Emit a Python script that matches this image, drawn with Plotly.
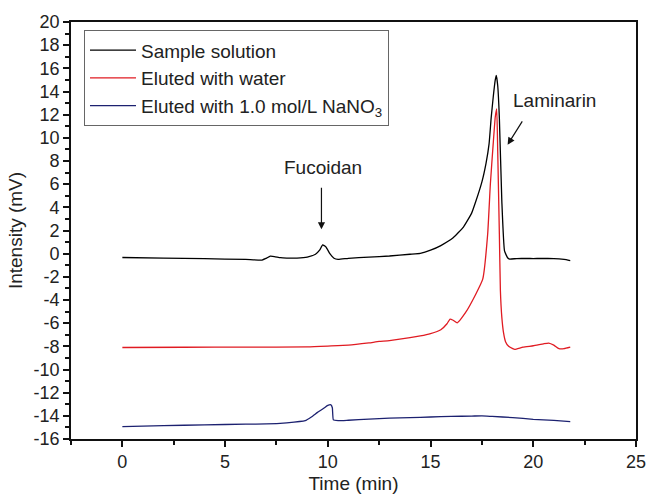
import plotly.graph_objects as go

# --- data ---
sample_x = [0, 2, 4, 6, 6.8, 7.0, 7.2, 7.4, 7.7, 8.0, 8.5, 9.0, 9.4, 9.6, 9.75, 9.9, 10.1, 10.3, 10.5,
            11, 12, 13, 14, 14.5, 15, 15.5, 16.1, 16.6, 17.0, 17.2, 17.5, 17.7, 17.85, 17.95, 18.05,
            18.15, 18.2, 18.27, 18.35, 18.47, 18.6, 18.75, 18.85, 19.2, 20, 21, 21.5, 21.8]
sample_y = [-0.33, -0.38, -0.43, -0.5, -0.55, -0.4, -0.22, -0.25, -0.35, -0.38, -0.38, -0.3, -0.05, 0.3,
            0.75, 0.6, 0.0, -0.4, -0.5, -0.4, -0.3, -0.2, -0.05, 0.03, 0.3, 0.7, 1.37, 2.3, 3.5, 4.5,
            6.2, 7.8, 9.5, 11.7, 13.5, 15.0, 15.4, 14.5, 11.7, 4.5, 0.24, -0.35, -0.47, -0.42, -0.42,
            -0.42, -0.5, -0.6]

water_x = [0, 3, 6, 9, 10, 11, 12, 12.5, 13, 14, 14.5, 15, 15.5, 15.8, 15.95, 16.1, 16.3, 16.7, 17.2,
           17.54, 17.78, 17.91, 18.05, 18.15, 18.22, 18.27, 18.35, 18.4, 18.47, 18.55, 18.65, 18.8,
           19.0, 19.1, 19.5, 20.0, 20.5, 20.75, 21.0, 21.25, 21.5, 21.8]
water_y = [-8.1, -8.08, -8.07, -8.05, -7.98, -7.9, -7.7, -7.58, -7.5, -7.25, -7.1, -6.9, -6.57, -6.05,
           -5.65, -5.75, -5.97, -5.1, -3.5, -2.2, 1.67, 5.97, 9.5, 11.8, 12.5, 8.8, 1.67, -3.2, -5.5,
           -6.8, -7.6, -8.0, -8.2, -8.26, -8.07, -7.95, -7.78, -7.72, -7.9, -8.2, -8.2, -8.07]

nano3_x = [0, 2, 4, 6, 7, 8, 8.9, 9.2, 9.5, 9.8, 10.0, 10.15, 10.22, 10.27, 10.5, 11, 12, 13, 14, 15,
           16, 17, 17.5, 18, 19, 20, 21, 21.8]
nano3_y = [-14.94, -14.85, -14.78, -14.72, -14.7, -14.6, -14.42, -14.1, -13.7, -13.35, -13.1, -13.05,
           -13.3, -14.35, -14.42, -14.38, -14.28, -14.2, -14.15, -14.1, -14.05, -14.02, -14.0, -14.05,
           -14.15, -14.3, -14.4, -14.5]

series_names = ["Sample solution", "Eluted with water", "Eluted with 1.0 mol/L NaNO<sub>3</sub>"]
series_colors = ["#000000", "#e01b22", "#1c2170"]

y_ticks = list(range(-16, 21, 2))
y_ticktext = [str(v) for v in y_ticks]
x_ticks = [0, 5, 10, 15, 20, 25]

FONT = "Arial, Liberation Sans, sans-serif"

fig = go.Figure()
for xs, ys, name, col in zip([sample_x, water_x, nano3_x], [sample_y, water_y, nano3_y],
                             series_names, series_colors):
    fig.add_trace(go.Scatter(x=xs, y=ys, mode="lines", name=name,
                             line=dict(color=col, width=1.3, shape="spline", smoothing=0.4)))

axis_common = dict(showline=True, linecolor="#111", linewidth=1.6, mirror=True, ticks="outside",
                   tickcolor="#111", tickwidth=1.5, ticklen=6, showgrid=False, zeroline=False,
                   automargin=False,
                   tickfont=dict(family=FONT, size=18, color="#222"))

fig.update_xaxes(range=[-2.5, 25], tickvals=x_ticks,
                 minor=dict(ticks="outside", ticklen=4, tickwidth=1.5, tickcolor="#111", dtick=2.5,
                            tick0=0, showgrid=False),
                 title=dict(text="Time (min)", font=dict(family=FONT, size=19, color="#222"), standoff=5),
                 **axis_common)
fig.update_yaxes(range=[-16, 20], tickvals=y_ticks, ticktext=y_ticktext,
                 minor=dict(ticks="outside", ticklen=4, tickwidth=1.5, tickcolor="#111", dtick=1,
                            tick0=0, showgrid=False),
                 title=dict(text="Intensity (mV)", font=dict(family=FONT, size=19, color="#222"), standoff=6),
                 **axis_common)

# annotations
fig.add_annotation(x=9.69, y=2.1, ax=9.69, ay=5.83, xref="x", yref="y", axref="x", ayref="y",
                   text="", showarrow=True, arrowhead=2, arrowsize=1.2, arrowwidth=1.2, arrowcolor="#111",
                   standoff=0, startstandoff=0)
fig.add_annotation(x=9.77, y=7.4, xref="x", yref="y", text="Fucoidan", showarrow=False,
                   font=dict(family=FONT, size=19, color="#222"))
fig.add_annotation(x=18.75, y=9.41, ax=19.51, ay=11.55, xref="x", yref="y", axref="x", ayref="y",
                   text="", showarrow=True, arrowhead=2, arrowsize=1.2, arrowwidth=1.2, arrowcolor="#111",
                   standoff=0, startstandoff=0)
fig.add_annotation(x=18.92, y=13.2, xref="x", yref="y", text="Laminarin", showarrow=False,
                   xanchor="left", font=dict(family=FONT, size=19, color="#222"))

fig.update_layout(
    width=647, height=497,
    margin=dict(l=71, r=11, t=22, b=58),
    paper_bgcolor="white", plot_bgcolor="white",
    font=dict(family=FONT, color="#222"),
    showlegend=True,
    legend=dict(x=0.023, y=0.98, xanchor="left", yanchor="top",
                bordercolor="#666", borderwidth=1, bgcolor="white",
                font=dict(family=FONT, size=19, color="#222"),
                itemwidth=46, tracegroupgap=0),
)

fig.write_html("out.html", config={"displayModeBar": False},
               post_script="document.body.style.margin='0px';")
